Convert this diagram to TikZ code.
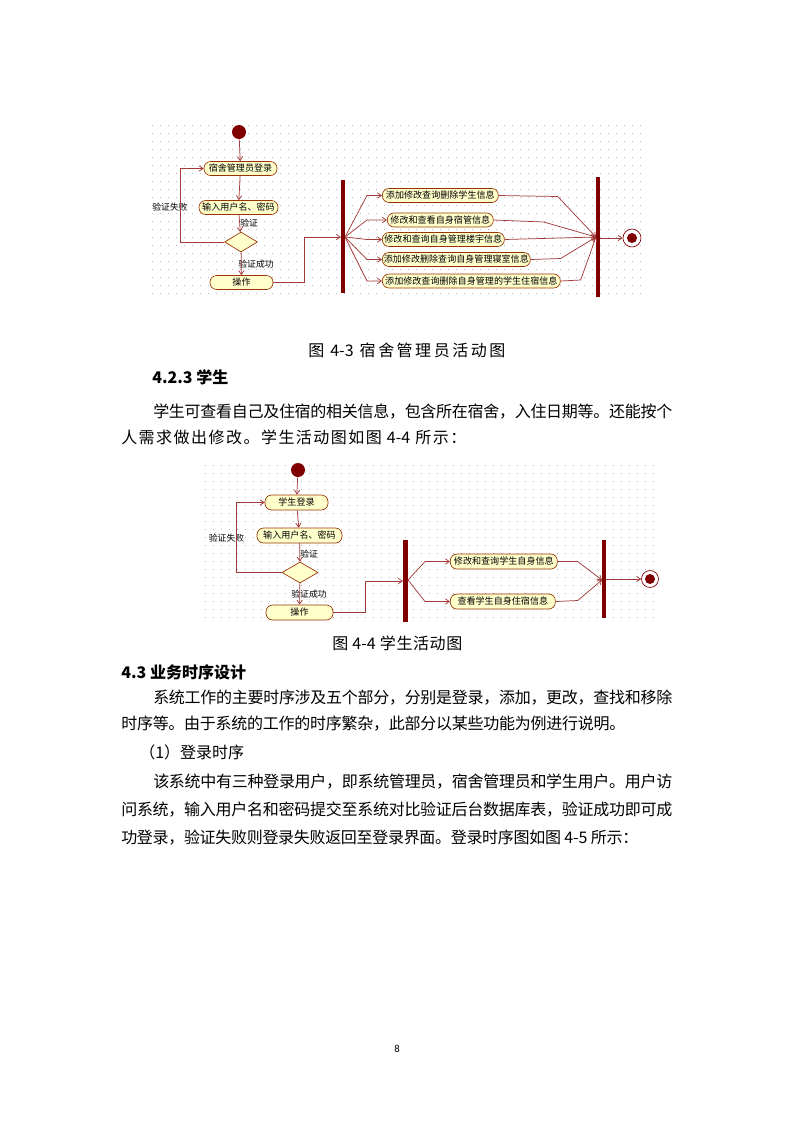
\documentclass[tikz,border=0pt]{standalone}
\usepackage{fontspec}
\setmainfont{Noto Sans CJK SC}
\newfontfamily\pgnum{Carlito}
\usetikzlibrary{arrows.meta,shapes.geometric}
\definecolor{dred}{HTML}{800000}
\definecolor{lineR}{HTML}{A33A3A}
\definecolor{boxline}{HTML}{993300}
\definecolor{boxfill}{HTML}{FFFFCC}
\definecolor{dotc}{HTML}{B8B8B8}
\newdimen\px \px=0.75pt
\def\spreadloop#1{\ifx\relax#1\else#1\hskip0pt plus 1fil minus 1fil\expandafter\spreadloop\fi}
\newcommand\spreadto[2]{\makebox[#1\px][s]{\spreadloop#2\relax\unskip}}
\tikzset{
  act/.style={draw=boxline, fill=boxfill, rounded corners=5pt, line width=0.5pt,
    minimum height=10.5pt, minimum width=#1*0.75pt, inner sep=1pt,
    font=\fontsize{6.8}{7}\selectfont},
  flow/.style={draw=lineR, line width=0.55pt, -{Straight Barb[length=3pt,width=4pt]}},
  bflow/.style={draw=lineR, line width=0.55pt, {Straight Barb[length=3pt,width=4pt]}-},
  barn/.style={fill=dred, draw=none, inner sep=0, minimum width=3.3pt},
  lbl/.style={font=\fontsize{6.6}{7}\selectfont, inner sep=0},
  txt/.style={anchor=base west, inner sep=0, font=\fontsize{12}{14}\selectfont},
  dec/.style={diamond, draw=boxline, fill=boxfill, line width=0.5pt, inner sep=0},
  startn/.style={circle, fill=dred, inner sep=0, minimum size=10.5pt},
}
\begin{document}
\begin{tikzpicture}[x=0.75pt,y=-0.75pt]
\useasboundingbox (0,0) rectangle (793,1122);
\fill[white] (0,0) rectangle (793,1122);
% ---------- grid 1
\foreach \x in {152,160,...,640} \foreach \y in {125,133,...,297} \fill[dotc] (\x,\y) rectangle ++(1,1);
% ---------- diagram 1
\node[startn] (s1) at (239,132) {};
\node[act=73] (b1) at (240.5,168.5) {宿舍管理员登录};
\node[act=79] (b2) at (238.5,207.5) {输入用户名、密码};
\node[dec, minimum width=33*0.75pt, minimum height=20*0.75pt] (d1) at (241,242) {};
\node[act=63] (op1) at (241.5,282.5) {操作};
\node[lbl, anchor=west] (v1) at (240,223) {验证};
\node[lbl] (f1) at (170,207) {验证失败};
\node[lbl] (ok1) at (256,264) {验证成功};
\draw[flow] (s1) -- (b1);
\draw[flow] (b1) -- (b2);
\draw[flow] (b2) -- (d1);
\draw[flow] (d1) -- (op1);
\draw[flow] (d1.west) -- ++(-44,0) |- (b1.west);
\node[barn, minimum height=113*0.75pt] (bar1) at (343,236.5) {};
\coordinate (j1in) at (341,237);
\coordinate (j1out) at (345,237);
\draw[flow] (op1.east) -- ++(31,0) |- (j1in);
\node[act=116, anchor=west] (a1) at (382,195.5) {添加修改查询删除学生信息};
\node[act=106, anchor=west] (a2) at (387,220) {修改和查看自身宿管信息};
\node[act=122, anchor=west] (a3) at (382,239.5) {修改和查询自身管理楼宇信息};
\node[act=148, anchor=west] (a4) at (382,259.5) {添加修改删除查询自身管理寝室信息};
\node[act=178, anchor=west] (a5) at (382,281) {添加修改查询删除自身管理的学生住宿信息};
\draw[bflow] (a1.west) -- ++(-15,0) -- (j1out);
\draw[bflow] (a2.west) -- ++(-20,0) -- (j1out);
\draw[bflow] (a3.west) -- ++(-15,0) -- (j1out);
\draw[bflow] (a4.west) -- ++(-15,0) -- (j1out);
\draw[bflow] (a5.west) -- ++(-15,0) -- (j1out);
\node[barn, minimum height=120*0.75pt] (bar2) at (598,237) {};
\coordinate (j2in) at (596,237);
\coordinate (j2out) at (600,238);
\draw[flow] (a1.east) -- ++(59,1) -- (j2in);
\draw[flow] (a2.east) -- ++(50,2) -- (j2in);
\draw[flow] (a3.east) -- (j2in);
\draw[flow] (a4.east) -- ++(30,-1) -- (j2in);
\draw[flow] (a5.east) -- ++(20,-1) -- (j2in);
\node[circle, draw=dred, fill=white, line width=0.5pt, minimum size=18*0.75pt, inner sep=0] (e1) at (632,238) {};
\node[circle, fill=dred, minimum size=10*0.75pt, inner sep=0] (e1i) at (632,238) {};
\draw[flow] (j2out) -- (e1);
% ---------- caption 1 and text
\node[txt] (cap1) at (308,356) {\spreadto{197}{图{{ 4-3 }}宿舍管理员活动图}};
\node[txt, font=\fontsize{12}{14}\selectfont\bfseries] (h1) at (152,383) {4.2.3 学生};
\node[txt] (p1a) at (153,417) {\spreadto{519}{学生可查看自己及住宿的相关信息，包含所在宿舍，入住日期等。还能按个}};
\node[txt] (p1b) at (121,443) {\spreadto{345}{人需求做出修改。学生活动图如图{{ 4-4 }}所示：}};
% ---------- grid 2
\foreach \x in {205,213,...,657} \foreach \y in {465,473,...,621} \fill[dotc] (\x,\y) rectangle ++(1,1);
% ---------- diagram 2
\node[startn] (s2) at (298,470) {};
\node[act=63, minimum height=11.25pt] (c1) at (296.5,502.5) {学生登录};
\node[act=85, minimum height=11.25pt] (c2) at (299.5,535.5) {输入用户名、密码};
\node[dec, minimum width=36*0.75pt, minimum height=21*0.75pt] (d2) at (300,572.5) {};
\node[act=67, minimum height=11.25pt] (op2) at (299.5,612.5) {操作};
\node[lbl, anchor=west] (v2) at (300,554) {验证};
\node[lbl] (f2) at (226.5,538) {验证失败};
\node[lbl] (ok2) at (309,594) {验证成功};
\draw[flow] (s2) -- (c1);
\draw[flow] (c1) -- (c2);
\draw[flow] (c2) -- (d2);
\draw[flow] (d2) -- (op2);
\draw[flow] (d2.west) -- ++(-45,0) |- (c1.west);
\node[barn, minimum height=82*0.75pt] (bar3) at (405.5,581) {};
\coordinate (k1in) at (403,581);
\coordinate (k1out) at (408,580);
\draw[flow] (op2.east) -- ++(32,0) |- (k1in);
\node[act=107, minimum height=11.25pt, anchor=west] (g1) at (450,561.5) {修改和查询学生自身信息};
\node[act=105, minimum height=11.25pt, anchor=west] (g2) at (450,601.5) {查看学生自身住宿信息};
\draw[bflow] (g1.west) -- ++(-25,0) -- (k1out);
\draw[bflow] (g2.west) -- ++(-25,0) -- (k1out);
\node[barn, minimum height=78*0.75pt] (bar4) at (604,579) {};
\coordinate (k2in) at (602,580);
\coordinate (k2out) at (606,579);
\draw[flow] (g1.east) -- ++(20,0) -- (k2in);
\draw[flow] (g2.east) -- ++(22,-1) -- (k2in);
\node[circle, draw=dred, fill=white, line width=0.5pt, minimum size=17*0.75pt, inner sep=0] (e2) at (650,579) {};
\node[circle, fill=dred, minimum size=10*0.75pt, inner sep=0] (e2i) at (650,579) {};
\draw[flow] (k2out) -- (e2);
% ---------- caption 2 and text
\node[txt] (cap2) at (332,649) {\spreadto{130}{图{{ 4-4 }}学生活动图}};
\node[txt, font=\fontsize{12}{14}\selectfont\bfseries] (h2) at (121,678) {4.3 业务时序设计};
\node[txt] (p2a) at (153,703) {\spreadto{519}{系统工作的主要时序涉及五个部分，分别是登录，添加，更改，查找和移除}};
\node[txt] (p2b) at (121,729) {\spreadto{504}{时序等。由于系统的工作的时序繁杂，此部分以某些功能为例进行说明。}};
\node[txt] (p3) at (139,758) {（1）登录时序};
\node[txt] (p4a) at (153,787) {\spreadto{519}{该系统中有三种登录用户，即系统管理员，宿舍管理员和学生用户。用户访}};
\node[txt] (p4b) at (121,815) {\spreadto{551}{问系统，输入用户名和密码提交至系统对比验证后台数据库表，验证成功即可成}};
\node[txt] (p4c) at (121,843) {\spreadto{517}{功登录，验证失败则登录失败返回至登录界面。登录时序图如图{{ 4-5 }}所示：}};
\node[font=\pgnum\fontsize{8}{9}\selectfont, inner sep=0] (pg) at (397,1049) {8};
\end{tikzpicture}
\end{document}
